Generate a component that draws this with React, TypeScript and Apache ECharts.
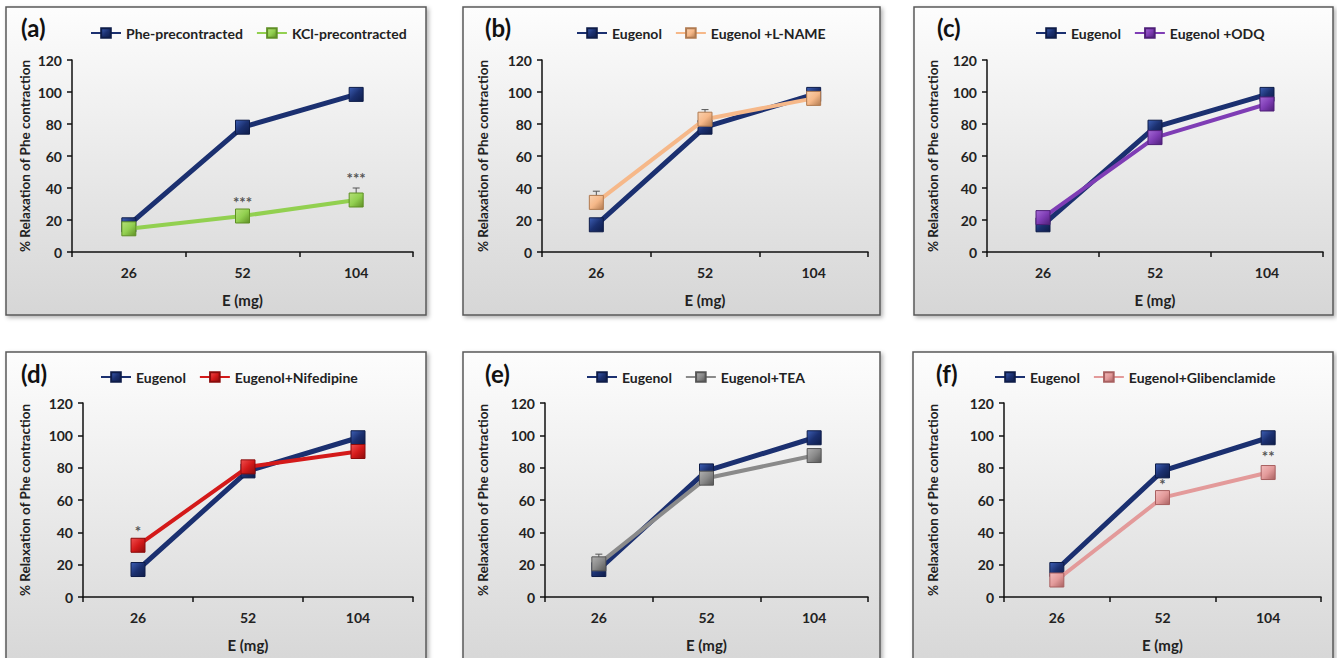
import React, { useEffect, useRef } from 'react';
import * as echarts from 'echarts';

// ---------- data ----------
const doses = ['26', '52', '104'];
const yMin = 0;
const yMax = 120;
const yStep = 20;

const phePre = [17, 78, 98.5];
const kclPre = [14.5, 22.5, 32.5];
const kclErrTop = [null, 26, 40];

const eugenol = [17, 78, 98.5];
const eugLName = [31, 83, 96];
const eugLNameErrTop = [38, 89, null];
const eugODQ = [21.5, 71.5, 92.5];
const eugNif = [32, 80.5, 90];
const eugTEA = [20.5, 73.5, 87.5];
const eugTEAErrTop = [26.5, null, null];
const eugGli = [10.5, 61.5, 77];

// significance marks: [dose index, y value, text]
const sigA: [number, number, string][] = [[1, 31, '***'], [2, 46, '***']];
const sigD: [number, number, string][] = [[0, 41, '*']];
const sigF: [number, number, string][] = [[1, 70, '*'], [2, 87, '**']];

const FONT = 'Lato';

type Pal = { line: string; light: string; dark: string };
const NAVY: Pal = { line: '#1b3070', light: '#3d5fb5', dark: '#0e1c48' };
const GREEN: Pal = { line: '#92d050', light: '#b6e07a', dark: '#5f8f25' };
const PEACH: Pal = { line: '#f6b889', light: '#f9d2b0', dark: '#b07a50' };
const PURPLE: Pal = { line: '#7f3db5', light: '#a56ad6', dark: '#4e1f78' };
const RED: Pal = { line: '#d41a1a', light: '#f05050', dark: '#8a0c0c' };
const GRAY: Pal = { line: '#8a8a8a', light: '#b0b0b0', dark: '#555555' };
const PINK: Pal = { line: '#e39a9a', light: '#f2bcbc', dark: '#a86060' };

type S = { name: string; data: number[]; pal: Pal; err?: (number | null)[]; width: number };
type Panel = {
  letter: string;
  letterPos: [number, number];
  frame: [number, number, number, number];
  grid: { left: number; top: number; width: number; height: number };
  nameGap: number;
  legendLeft: number;
  legendTop: number;
  series: S[];
  sig?: [number, number, string][];
};

const panels: Panel[] = [
  {
    letter: '(a)', letterPos: [21, 27], frame: [6, 7, 420, 308],
    grid: { left: 72, top: 60, width: 341, height: 192 }, nameGap: 40,
    legendLeft: 90, legendTop: 26,
    series: [
      { name: 'Phe-precontracted', data: phePre, pal: NAVY, width: 5 },
      { name: 'KCl-precontracted', data: kclPre, pal: GREEN, err: kclErrTop, width: 4 },
    ],
    sig: sigA,
  },
  {
    letter: '(b)', letterPos: [485, 27], frame: [463, 7, 417, 308],
    grid: { left: 542, top: 60, width: 326, height: 192 }, nameGap: 52,
    legendLeft: 576, legendTop: 26,
    series: [
      { name: 'Eugenol', data: eugenol, pal: NAVY, width: 5 },
      { name: 'Eugenol +L-NAME', data: eugLName, pal: PEACH, err: eugLNameErrTop, width: 4 },
    ],
  },
  {
    letter: '(c)', letterPos: [937, 27], frame: [914, 7, 419, 308],
    grid: { left: 987, top: 60, width: 336, height: 192 }, nameGap: 47,
    legendLeft: 1035, legendTop: 26,
    series: [
      { name: 'Eugenol', data: eugenol, pal: NAVY, width: 5 },
      { name: 'Eugenol +ODQ', data: eugODQ, pal: PURPLE, width: 4 },
    ],
  },
  {
    letter: '(d)', letterPos: [21, 373], frame: [6, 352, 420, 320],
    grid: { left: 83, top: 403, width: 330, height: 194 }, nameGap: 51,
    legendLeft: 100, legendTop: 370,
    series: [
      { name: 'Eugenol', data: eugenol, pal: NAVY, width: 5 },
      { name: 'Eugenol+Nifedipine', data: eugNif, pal: RED, width: 4 },
    ],
    sig: sigD,
  },
  {
    letter: '(e)', letterPos: [485, 373], frame: [463, 352, 417, 320],
    grid: { left: 545, top: 403, width: 323, height: 194 }, nameGap: 55,
    legendLeft: 586, legendTop: 370,
    series: [
      { name: 'Eugenol', data: eugenol, pal: NAVY, width: 5 },
      { name: 'Eugenol+TEA', data: eugTEA, pal: GRAY, err: eugTEAErrTop, width: 4 },
    ],
  },
  {
    letter: '(f)', letterPos: [936, 373], frame: [913, 352, 420, 320],
    grid: { left: 1004, top: 403, width: 317, height: 194 }, nameGap: 64,
    legendLeft: 994, legendTop: 370,
    series: [
      { name: 'Eugenol', data: eugenol, pal: NAVY, width: 5 },
      { name: 'Eugenol+Glibenclamide', data: eugGli, pal: PINK, width: 4 },
    ],
    sig: sigF,
  },
];

function markerFill(p: Pal) {
  return {
    type: 'linear', x: 0, y: 0, x2: 1, y2: 1,
    colorStops: [
      { offset: 0, color: p.light },
      { offset: 0.5, color: p.line },
      { offset: 1, color: p.dark },
    ],
  };
}

function buildOption() {
  const graphic: any[] = [];
  const grid: any[] = [];
  const xAxis: any[] = [];
  const yAxis: any[] = [];
  const legend: any[] = [];
  const series: any[] = [];

  panels.forEach((p, i) => {
    const [fx, fy, fw, fh] = p.frame;
    graphic.push({
      type: 'rect', z: -10, silent: true,
      shape: { x: fx, y: fy, width: fw, height: fh },
      style: {
        fill: {
          type: 'linear', x: 0, y: 0, x2: 0, y2: 1,
          colorStops: [
            { offset: 0, color: '#fdfdfd' },
            { offset: 1, color: '#d6d6d6' },
          ],
        },
        stroke: '#5a5a5a', lineWidth: 1.5,
        shadowBlur: 4, shadowColor: 'rgba(0,0,0,0.3)', shadowOffsetX: 2, shadowOffsetY: 2,
      },
    });
    graphic.push({
      type: 'text', z: 10, x: p.letterPos[0], y: p.letterPos[1],
      style: {
        text: p.letter, fill: '#111', font: `bold 24px ${FONT}`,
        textVerticalAlign: 'middle', verticalAlign: 'middle',
      },
    });

    grid.push({ ...p.grid });
    xAxis.push({
      type: 'category', gridIndex: i, data: doses, boundaryGap: true,
      axisLine: { lineStyle: { color: '#111', width: 1.5 } },
      axisTick: { show: true, length: 5, lineStyle: { color: '#111', width: 1.5 } },
      axisLabel: { color: '#222', fontWeight: 'bold', fontSize: 14, fontFamily: FONT, margin: 13 },
      name: 'E (mg)', nameLocation: 'middle', nameGap: 40,
      nameTextStyle: { color: '#222', fontWeight: 'bold', fontSize: 15, fontFamily: FONT },
      splitLine: { show: false },
    });
    yAxis.push({
      type: 'value', gridIndex: i, min: yMin, max: yMax, interval: yStep,
      axisLine: { show: true, lineStyle: { color: '#111', width: 1.5 } },
      axisTick: { show: true, length: 5, lineStyle: { color: '#111', width: 1.5 } },
      axisLabel: { color: '#222', fontWeight: 'bold', fontSize: 14, fontFamily: FONT, margin: 10 },
      splitLine: { show: false },
      name: '% Relaxation of Phe contraction', nameLocation: 'middle', nameGap: p.nameGap,
      nameRotate: 90,
      nameTextStyle: { color: '#222', fontWeight: 'bold', fontSize: 13.5, fontFamily: FONT },
    });
    legend.push({
      data: p.series.map((s) => s.name),
      left: p.legendLeft, top: p.legendTop, orient: 'horizontal',
      itemWidth: 30, itemHeight: 12, itemGap: 13, padding: 0,
      selectedMode: false,
      textStyle: { color: '#222', fontWeight: 'bold', fontSize: 14, fontFamily: FONT },
    });

    p.series.forEach((s, k) => {
      if (s.err) {
        const errData: number[][] = [];
        s.err.forEach((t, j) => {
          if (t != null) errData.push([j, s.data[j], t]);
        });
        series.push({
          type: 'custom', name: `err-${i}-${k}`, xAxisIndex: i, yAxisIndex: i, z: 1,
          silent: true,
          data: errData,
          renderItem: (params: any, api: any) => {
            const p0 = api.coord([api.value(0), api.value(1)]);
            const p1 = api.coord([api.value(0), api.value(2)]);
            return {
              type: 'group',
              children: [
                { type: 'line', shape: { x1: p0[0], y1: p0[1], x2: p1[0], y2: p1[1] }, style: { stroke: '#555', lineWidth: 1 } },
                { type: 'line', shape: { x1: p1[0] - 3.5, y1: p1[1], x2: p1[0] + 3.5, y2: p1[1] }, style: { stroke: '#555', lineWidth: 1 } },
              ],
            };
          },
        });
      }
      series.push({
        type: 'line', name: s.name, xAxisIndex: i, yAxisIndex: i, data: s.data,
        symbol: 'rect', symbolSize: 14, z: 3 + k,
        lineStyle: { color: s.pal.line, width: s.width },
        itemStyle: { color: markerFill(s.pal), borderColor: s.pal.dark, borderWidth: 1, opacity: 1 },
        emphasis: { disabled: true },
      });
    });

    if (p.sig) {
      const sig = p.sig;
      series.push({
        type: 'custom', name: `sig-${i}`, xAxisIndex: i, yAxisIndex: i, z: 6, silent: true,
        data: sig.map((d) => [d[0], d[1]]),
        renderItem: (params: any, api: any) => {
          const pt = api.coord([api.value(0), api.value(1)]);
          return {
            type: 'text', x: pt[0], y: pt[1],
            style: {
              text: sig[params.dataIndex][2], fill: '#555', font: `bold 15px ${FONT}`,
              textAlign: 'center', align: 'center', textVerticalAlign: 'middle', verticalAlign: 'middle',
            },
          };
        },
      });
    }
  });

  return {
    animation: false,
    backgroundColor: '#ffffff',
    graphic,
    grid,
    xAxis,
    yAxis,
    legend,
    series,
  };
}

export default function App() {
  const ref = useRef<HTMLDivElement>(null);
  useEffect(() => {
    if (!ref.current) return;
    const chart = echarts.init(ref.current, undefined, { renderer: 'svg' });
    chart.setOption(buildOption() as any);
    return () => chart.dispose();
  }, []);
  return (
    <div
      ref={ref}
      style={{ position: 'absolute', left: 0, top: 0, width: 1337, height: 658 }}
    />
  );
}
